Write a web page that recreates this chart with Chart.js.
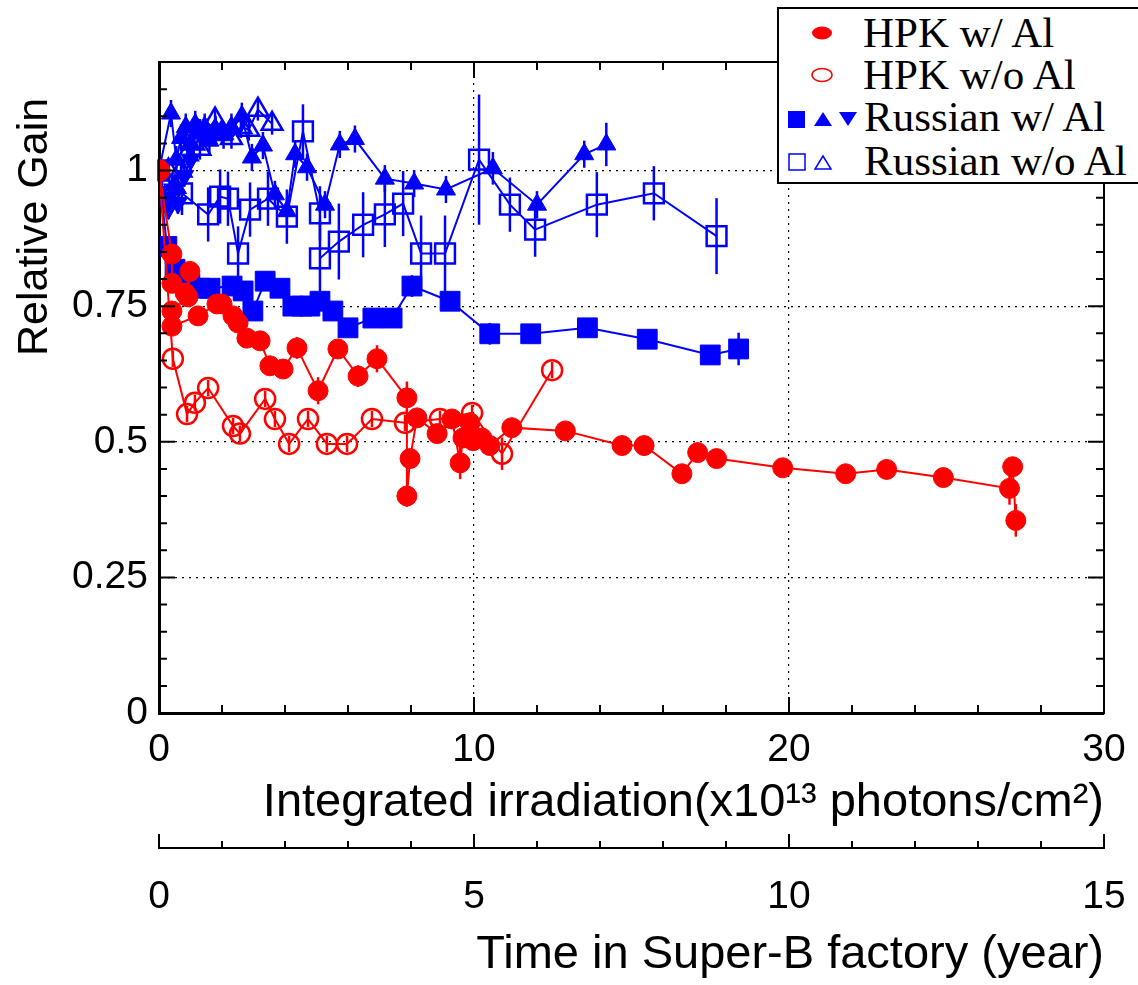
<!DOCTYPE html>
<html>
<head>
<meta charset="utf-8">
<script src="https://cdn.jsdelivr.net/npm/chart.js@4"></script>
<style>
  html, body { margin: 0; padding: 0; background: #fff; overflow: hidden; }
  #wrap { position: relative; width: 1138px; height: 985px; overflow: hidden; }
  canvas { display: block; }
  #legend { position: absolute; left: 777px; top: 7px; width: 380px; height: 177px;
            border: 2px solid #000; box-sizing: border-box; background: #fff; }
  .lg { position: absolute; font-family: "Liberation Serif", "Times New Roman", serif;
        font-size: 43px; line-height: 42px; white-space: nowrap; color: #000; }
  #sym { position: absolute; left: 0; top: 0; }
</style>
</head>
<body>
<div id="wrap">
  <canvas id="gain"></canvas>
  <div id="legend"></div>
  <svg id="sym" width="1138" height="200">
    <ellipse cx="822" cy="33" rx="10" ry="6.5" fill="#f00"/>
    <ellipse cx="822" cy="75" rx="10" ry="6.5" fill="none" stroke="#f00" stroke-width="1.5"/>
    <rect x="788" y="111" width="17" height="17" fill="#00f"/>
    <polygon points="814,126 832,126 823,112" fill="#00f"/>
    <polygon points="839,112 857,112 848,126" fill="#00f"/>
    <rect x="789" y="154" width="16" height="16" fill="none" stroke="#00f" stroke-width="1.5"/>
    <polygon points="815,169 831,169 823,156" fill="none" stroke="#00f" stroke-width="1.5"/>
  </svg>
  <div class="lg" style="left:863px;top:12px">HPK w/ Al</div>
  <div class="lg" style="left:863px;top:54px">HPK w/o Al</div>
  <div class="lg" style="left:864px;top:96px">Russian w/ Al</div>
  <div class="lg" style="left:864px;top:140px">Russian w/o Al</div>
</div>
<script>
// HPK w/ Al (filled circles)
const hpkAlX = [0, 0.41, 0.41, 0.83, 0.98, 0.92, 0.41, 0.41, 1.24, 1.84, 2.0, 2.35, 2.51, 2.79, 3.21, 3.52, 3.94, 4.38, 5.05, 5.68, 6.32, 6.92, 7.87, 7.87, 7.97, 8.19, 8.83, 9.3, 9.56, 9.65, 9.87, 9.97, 10.25, 10.5, 11.2, 12.9, 14.7, 15.4, 16.6, 17.1, 17.7, 19.8, 21.8, 23.1, 24.9, 27.0, 27.1, 27.2];
const hpkAlY = [1.0, 0.846, 0.792, 0.774, 0.814, 0.767, 0.741, 0.713, 0.732, 0.754, 0.754, 0.732, 0.719, 0.691, 0.686, 0.640, 0.634, 0.673, 0.594, 0.671, 0.621, 0.653, 0.581, 0.40, 0.469, 0.544, 0.515, 0.542, 0.461, 0.507, 0.535, 0.502, 0.507, 0.493, 0.526, 0.520, 0.493, 0.493, 0.441, 0.480, 0.469, 0.452, 0.441, 0.449, 0.434, 0.414, 0.454, 0.355];
const hpkAlErr = [0.02, 0.015, 0.015, 0.015, 0.015, 0.015, 0.015, 0.015, 0.015, 0.015, 0.015, 0.015, 0.015, 0.015, 0.015, 0.015, 0.015, 0.02, 0.025, 0.015, 0.02, 0.025, 0.03, 0.02, 0.015, 0.015, 0.015, 0.015, 0.03, 0.015, 0.015, 0.015, 0.015, 0.015, 0.015, 0.015, 0.015, 0.015, 0.015, 0.015, 0.015, 0.015, 0.015, 0.015, 0.015, 0.03, 0.015, 0.03];

// HPK w/o Al (open circles)
const hpkNoX = [0, 0.44, 0.89, 1.14, 1.56, 2.35, 2.57, 3.37, 3.68, 4.13, 4.73, 5.33, 5.97, 6.76, 7.81, 8.92, 9.94, 10.89, 12.48];
const hpkNoY = [1.0, 0.653, 0.551, 0.572, 0.599, 0.529, 0.515, 0.579, 0.542, 0.496, 0.542, 0.496, 0.496, 0.542, 0.535, 0.542, 0.553, 0.478, 0.632];
const hpkNoErr = [0.02, 0.015, 0.015, 0.015, 0.015, 0.015, 0.015, 0.015, 0.015, 0.015, 0.015, 0.015, 0.015, 0.015, 0.015, 0.015, 0.015, 0.03, 0.015];

// Russian w/ Al (filled squares)
const rusSqX = [0, 0.25, 0.51, 0.98, 1.30, 1.62, 2.32, 2.67, 2.98, 3.37, 3.84, 4.25, 4.54, 4.79, 5.11, 5.52, 6.0, 6.79, 7.40, 8.03, 9.24, 10.5, 11.8, 13.6, 15.5, 17.5, 18.4];
const rusSqY = [1.0, 0.860, 0.818, 0.792, 0.783, 0.783, 0.787, 0.778, 0.741, 0.796, 0.783, 0.750, 0.750, 0.750, 0.759, 0.741, 0.710, 0.728, 0.728, 0.787, 0.759, 0.699, 0.699, 0.710, 0.689, 0.660, 0.671];
const rusSqErr = [0.02, 0.015, 0.015, 0.015, 0.015, 0.015, 0.015, 0.015, 0.015, 0.015, 0.015, 0.015, 0.015, 0.015, 0.015, 0.015, 0.015, 0.015, 0.015, 0.02, 0.015, 0.02, 0.015, 0.015, 0.015, 0.015, 0.03];

// Russian w/ Al (filled up triangles)
const rusUpX = [0, 0.38, 0.55, 0.7, 0.85, 1.0, 1.15, 1.3, 1.45, 1.6, 1.8, 2.05, 2.3, 2.63, 2.95, 3.3, 3.68, 4.06, 4.32, 4.7, 5.27, 5.74, 6.22, 7.17, 8.1, 9.11, 10.6, 12.0, 13.5, 14.2];
const rusUpY = [1.0, 1.105, 1.02, 1.06, 1.08, 1.05, 1.085, 1.07, 1.08, 1.055, 1.075, 1.065, 1.08, 1.1, 1.024, 1.046, 0.956, 0.925, 1.03, 1.006, 0.937, 1.048, 1.058, 0.985, 0.976, 0.965, 1.004, 0.937, 1.03, 1.048];
const rusUpErr = [0.02, 0.025, 0.025, 0.025, 0.025, 0.025, 0.025, 0.025, 0.025, 0.025, 0.025, 0.025, 0.025, 0.025, 0.025, 0.025, 0.025, 0.025, 0.025, 0.025, 0.025, 0.025, 0.025, 0.025, 0.025, 0.025, 0.03, 0.025, 0.025, 0.04];

// Russian w/ Al (filled down triangles)
const rusDnX = [0, 0.15, 0.3, 0.45, 0.6, 0.8, 1.0];
const rusDnY = [1.0, 0.95, 0.93, 0.965, 0.94, 0.99, 1.02];
const rusDnErr = [0.02, 0.02, 0.02, 0.02, 0.02, 0.02, 0.02];

// Russian w/o Al (open squares)
const rusOpSqX = [0, 0.73, 1.56, 1.94, 2.19, 2.51, 2.89, 3.46, 4.06, 4.57, 5.11, 5.11, 5.71, 6.48, 7.17, 7.75, 8.32, 9.08, 10.16, 11.14, 11.94, 13.9, 15.71, 17.7];
const rusOpSqY = [1.0, 0.958, 0.919, 0.952, 0.948, 0.847, 0.928, 0.948, 0.915, 1.072, 0.921, 0.838, 0.869, 0.9, 0.919, 0.939, 0.847, 0.847, 1.02, 0.937, 0.891, 0.937, 0.958, 0.879];
const rusOpSqErr = [0.02, 0.04, 0.05, 0.05, 0.05, 0.05, 0.05, 0.05, 0.05, 0.05, 0.05, 0.07, 0.07, 0.06, 0.06, 0.06, 0.07, 0.07, 0.12, 0.05, 0.05, 0.06, 0.05, 0.07];

// Russian w/o Al (open triangles)
const rusOpTrX = [0.1, 0.3, 0.5, 0.7, 0.9, 1.1, 1.3, 1.5, 1.78, 2.0, 2.3, 2.6, 2.85, 3.14, 3.59];
const rusOpTrY = [0.98, 1.0, 0.97, 1.0, 1.03, 1.05, 1.04, 1.07, 1.094, 1.07, 1.06, 1.08, 1.075, 1.112, 1.086];
const rusOpTrErr = [0.02, 0.02, 0.02, 0.02, 0.02, 0.02, 0.02, 0.02, 0.02, 0.02, 0.02, 0.02, 0.02, 0.02, 0.02];

const xTicks = [0, 10, 20, 30];
const yTicks = [0, 0.25, 0.5, 0.75, 1];
const timeTicks = [0, 5, 10, 15];

const RED = '#ff0000', BLUE = '#0000ff';
const pts = (xs, ys) => xs.map((v, i) => ({x: v, y: ys[i]}));

function series(label, xs, ys, errs, color, style, radius, filled, rot) {
	return {
		label: label,
		data: pts(xs, ys),
		errors: errs,
		showLine: true,
		borderColor: color,
		borderWidth: 2,
		backgroundColor: filled ? color : 'rgba(0,0,0,0)',
		pointStyle: style,
		pointRadius: radius,
		pointHoverRadius: radius,
		pointBorderWidth: filled ? 1 : 2.5,
		pointRotation: rot || 0,
		pointBackgroundColor: filled ? color : 'rgba(0,0,0,0)',
		pointBorderColor: color
	};
}

// vertical error bars, drawn under the markers
const errorBars = {
	id: 'errorBars',
	beforeDatasetsDraw(chart) {
		const {ctx, scales: {x, y}} = chart;
		chart.data.datasets.forEach(ds => {
			ctx.save();
			ctx.strokeStyle = ds.borderColor;
			ctx.lineWidth = 2.5;
			ds.data.forEach((p, i) => {
				const e = ds.errors[i];
				const px = x.getPixelForValue(p.x);
				ctx.beginPath();
				ctx.moveTo(px, y.getPixelForValue(p.y - e));
				ctx.lineTo(px, y.getPixelForValue(p.y + e));
				ctx.stroke();
			});
			ctx.restore();
		});
	}
};

// box around the plot and inward tick marks (ROOT style)
const frame = {
	id: 'frame',
	afterDraw(chart) {
		const {ctx, chartArea: a, scales: {x, y, x2}} = chart;
		ctx.save();
		ctx.strokeStyle = '#000';
		ctx.lineWidth = 2;
		ctx.strokeRect(a.left, a.top, a.right - a.left, a.bottom - a.top);
		ctx.beginPath();
		for (let k = 0; k <= 15; k++) {
			const px = x.getPixelForValue(k * 2);
			const L = (k % 5 === 0) ? 16 : 8;
			ctx.moveTo(px, a.bottom); ctx.lineTo(px, a.bottom - L);
			ctx.moveTo(px, a.top); ctx.lineTo(px, a.top + L);
		}
		for (let k = 0; k <= 24; k++) {
			const py = y.getPixelForValue(k * 0.05);
			const L = (k % 5 === 0) ? 16 : 8;
			ctx.moveTo(a.left, py); ctx.lineTo(a.left + L, py);
			ctx.moveTo(a.right, py); ctx.lineTo(a.right - L, py);
		}
		for (let k = 0; k <= 15; k++) {
			const px = x2.getPixelForValue(k);
			const L = (k % 5 === 0) ? 14 : 7;
			ctx.moveTo(px, x2.top); ctx.lineTo(px, x2.top - L);
		}
		ctx.stroke();
		ctx.restore();
	}
};

// keep the chart area edges fixed regardless of tick label overhang
const noSidePad = s => { s.paddingLeft = 0; s.paddingRight = 0; };

const tickFont = {family: "'Liberation Sans', Arial, sans-serif", size: 39};
const titleFont = {family: "'Liberation Sans', Arial, sans-serif", size: 47};

const ctx = document.getElementById('gain').getContext('2d');
const config = {
	type: 'scatter',
	plugins: [errorBars, frame],
	data: {
		datasets: [
			series('HPK w/ Al', hpkAlX, hpkAlY, hpkAlErr, RED, 'circle', 10, true),
			series('HPK w/o Al', hpkNoX, hpkNoY, hpkNoErr, RED, 'circle', 10, false),
			series('Russian w/ Al', rusSqX, rusSqY, rusSqErr, BLUE, 'rect', 14, true),
			series('Russian w/ Al', rusUpX, rusUpY, rusUpErr, BLUE, 'triangle', 11, true),
			series('Russian w/ Al', rusDnX, rusDnY, rusDnErr, BLUE, 'triangle', 11, true, 180),
			series('Russian w/o Al', rusOpSqX, rusOpSqY, rusOpSqErr, BLUE, 'rect', 14, false),
			series('Russian w/o Al', rusOpTrX, rusOpTrY, rusOpTrErr, BLUE, 'triangle', 12, false)
		]
	},
	options: {
		animation: false,
		responsive: true,
		maintainAspectRatio: false,
		layout: {
			padding: {top: 62, right: 34, left: 0, bottom: 0}
		},
		plugins: {
			legend: {display: false},
			tooltip: {enabled: false}
		},
		scales: {
			x: {
				type: 'linear',
				position: 'bottom',
				min: 0, max: 30,
				weight: 0,
				afterBuildTicks: s => { s.ticks = xTicks.map(v => ({value: v})); },
				afterFit: s => { s.height = 135; noSidePad(s); },
				ticks: {font: tickFont, color: '#000', padding: 14, maxRotation: 0},
				grid: {color: '#000', lineWidth: 1.2, drawTicks: false},
				border: {color: '#000', width: 3, dash: [2, 5]},
				title: {
					display: true,
					text: 'Integrated irradiation(x10¹³ photons/cm²)',
					align: 'end',
					color: '#000',
					font: titleFont,
					padding: {top: 0, bottom: 17}
				}
			},
			x2: {
				type: 'linear',
				position: 'bottom',
				min: 0, max: 15,
				weight: 1,
				afterBuildTicks: s => { s.ticks = timeTicks.map(v => ({value: v})); },
				afterFit: s => { s.height = 137; noSidePad(s); },
				ticks: {font: tickFont, color: '#000', padding: 18, maxRotation: 0},
				grid: {display: false, drawOnChartArea: false},
				border: {display: true, color: '#000', width: 2},
				title: {
					display: true,
					text: 'Time in Super-B factory (year)',
					align: 'end',
					color: '#000',
					font: titleFont,
					padding: {top: 0, bottom: 2}
				}
			},
			y: {
				type: 'linear',
				min: 0, max: 1.2,
				afterBuildTicks: s => { s.ticks = yTicks.map(v => ({value: v})); },
				afterFit: s => { s.width = 159; },
				ticks: {font: tickFont, color: '#000', padding: 11, callback: v => String(v)},
				grid: {color: '#000', lineWidth: 1.2, drawTicks: false},
				border: {color: '#000', width: 3, dash: [2, 5]},
				title: {
					display: true,
					text: 'Relative Gain   ',
					align: 'end',
					color: '#000',
					font: {family: "'Liberation Sans', Arial, sans-serif", size: 43},
					padding: {top: 9, bottom: 0}
				}
			}
		}
	}
};
var gain = new Chart(ctx, config);
</script>
</body>
</html>
